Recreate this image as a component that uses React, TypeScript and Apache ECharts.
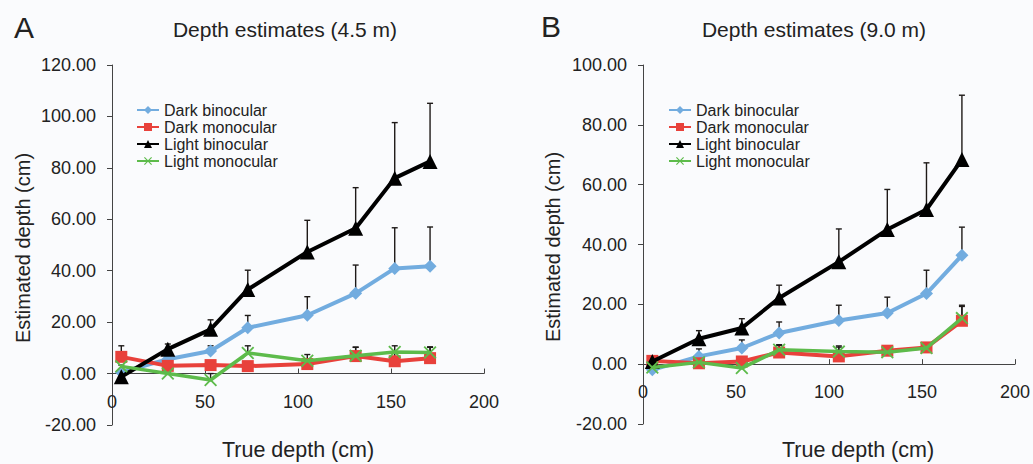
import React, { useEffect, useRef } from "react";
import * as echarts from "echarts";

const trueDepth = [5, 30, 53, 73, 105, 131, 152, 171];
const seriesNames = ["Dark binocular", "Dark monocular", "Light binocular", "Light monocular"];

// Panel A (4.5 m)
const aDarkBin = [0.5, 5.6, 8.8, 17.8, 22.7, 31.2, 40.9, 41.7];
const aDarkBinErr = [0.5, 1.2, 2.0, 4.8, 7.2, 11.0, 15.8, 15.3];
const aDarkMono = [6.5, 3.0, 3.3, 2.9, 3.7, 6.8, 4.8, 6.0];
const aDarkMonoErr = [4.3, 1.2, 1.2, 1.2, 1.5, 3.4, 3.5, 4.2];
const aLightBin = [-1.2, 9.5, 17.2, 32.7, 47.3, 56.5, 76.0, 82.5];
const aLightBinErr = [0.3, 2.0, 3.7, 7.5, 12.3, 15.8, 21.6, 22.6];
const aLightMono = [2.8, 0.0, -2.5, 8.0, 5.0, 6.9, 8.4, 8.2];
const aLightMonoErr = [0.5, 0.5, 2.5, 2.8, 2.4, 3.4, 2.4, 2.2];

// Panel B (9.0 m)
const bDarkBin = [-1.9, 2.6, 5.4, 10.4, 14.6, 17.1, 23.6, 36.4];
const bDarkBinErr = [0.5, 2.5, 2.7, 3.7, 5.1, 5.3, 7.8, 9.4];
const bDarkMono = [1.1, 0.3, 0.9, 3.9, 2.6, 4.5, 5.6, 14.5];
const bDarkMonoErr = [0.5, 0.5, 0.5, 2.6, 3.5, 1.0, 1.0, 5.2];
const bLightBin = [0.9, 8.5, 12.1, 22.1, 34.2, 45.0, 51.7, 68.4];
const bLightBinErr = [0.5, 2.7, 3.1, 4.3, 11.0, 13.4, 15.6, 21.5];
const bLightMono = [-1.1, 0.6, -1.3, 4.8, 4.2, 4.0, 5.4, 15.4];
const bLightMonoErr = [0.5, 0.5, 0.5, 1.5, 1.5, 0.5, 0.5, 3.9];

const yTicksA = { min: -20, max: 120, interval: 20 };
const yTicksB = { min: -20, max: 100, interval: 20 };
const xTicks = { min: 0, max: 200, interval: 50 };

const FONT = "'Liberation Sans', Arial, Helvetica, sans-serif";
const TEXT = "#222";
const COLORS = ["#72acdf", "#e8413b", "#000000", "#5dbb4b"];
const X_SYMBOL =
  "path://M1,0 L5,4 L9,0 L10,1 L6,5 L10,9 L9,10 L5,6 L1,10 L0,9 L4,5 L0,1 Z";
const SYMBOLS = ["diamond", "rect", "triangle", X_SYMBOL];
const SYMBOL_SIZES = [13, 12, 15, 13];
const LINE_WIDTHS = [4, 4, 4, 3.5];

export default function App() {
  const ref = useRef<HTMLDivElement>(null);

  useEffect(() => {
    document.body.style.margin = "0";
    if (!ref.current) return;
    const chart = echarts.init(ref.current, null, { renderer: "svg" });

    const panels = [
      { means: [aDarkBin, aDarkMono, aLightBin, aLightMono], errs: [aDarkBinErr, aDarkMonoErr, aLightBinErr, aLightMonoErr] },
      { means: [bDarkBin, bDarkMono, bLightBin, bLightMono], errs: [bDarkBinErr, bDarkMonoErr, bLightBinErr, bLightMonoErr] },
    ];

    const grids = [
      { left: 112, top: 65, width: 372, height: 360 },
      { left: 643, top: 65, width: 373, height: 359 },
    ];
    const yT = [yTicksA, yTicksB];
    // grids whose bottom edge sits at y = 0 of each panel (carry the x axis)
    const zeroGrids = grids.map((g, i) => ({
      left: g.left,
      top: g.top,
      width: g.width,
      height: (g.height * yT[i].max) / (yT[i].max - yT[i].min),
    }));

    const errRender = (params: any, api: any) => {
      const x = api.value(0);
      const y = api.value(1);
      const e = api.value(2);
      const p = api.coord([x, y]);
      const t = api.coord([x, y + e]);
      const st = { stroke: "#1e1a18", lineWidth: 1.4 };
      return {
        type: "group",
        children: [
          { type: "line", shape: { x1: p[0], y1: p[1], x2: t[0], y2: t[1] }, style: st },
          { type: "line", shape: { x1: t[0] - 3, y1: t[1], x2: t[0] + 3, y2: t[1] }, style: st },
        ],
      };
    };

    const series: any[] = [];
    panels.forEach((pn, gi) => {
      pn.means.forEach((vals, si) => {
        series.push({
          type: "custom",
          name: seriesNames[si] + " err",
          xAxisIndex: gi,
          yAxisIndex: gi,
          renderItem: errRender,
          encode: { x: 0, y: 1 },
          data: trueDepth.map((d, i) => [d, vals[i], pn.errs[si][i]]),
          z: 1,
          silent: true,
        });
      });
      pn.means.forEach((vals, si) => {
        series.push({
          type: "line",
          name: seriesNames[si],
          xAxisIndex: gi,
          yAxisIndex: gi,
          data: trueDepth.map((d, i) => [d, vals[i]]),
          symbol: SYMBOLS[si],
          symbolSize: SYMBOL_SIZES[si],
          showSymbol: true,
          color: COLORS[si],
          lineStyle: { color: COLORS[si], width: LINE_WIDTHS[si] },
          itemStyle: { color: COLORS[si] },
          z: 2 + si,
        });
      });
    });

    const yAxis = (t: any, gi: number) => ({
      type: "value",
      gridIndex: gi,
      min: t.min,
      max: t.max,
      interval: t.interval,
      splitLine: { show: false },
      axisLine: { show: true, lineStyle: { color: "#444", width: 1 } },
      axisTick: { show: true, inside: false, length: 5, lineStyle: { color: "#444" } },
      axisLabel: {
        margin: 16,
        fontSize: 18,
        color: TEXT,
        fontFamily: FONT,
        formatter: (v: number) => v.toFixed(2),
      },
    });
    const hiddenY = (gi: number) => ({
      type: "value",
      gridIndex: gi,
      min: 0,
      max: 1,
      show: false,
    });
    const hiddenX = (gi: number) => ({
      type: "value",
      gridIndex: gi,
      min: xTicks.min,
      max: xTicks.max,
      interval: xTicks.interval,
      show: false,
      splitLine: { show: false },
    });
    const xAxis = (gi: number) => ({
      type: "value",
      gridIndex: gi,
      position: "bottom",
      min: xTicks.min,
      max: xTicks.max,
      interval: xTicks.interval,
      splitLine: { show: false },
      axisLine: { show: true, onZero: false, lineStyle: { color: "#444", width: 1 } },
      axisTick: { show: true, inside: true, length: 5, lineStyle: { color: "#444" } },
      axisLabel: { margin: 19, fontSize: 18, color: TEXT, fontFamily: FONT },
    });

    const legend = (left: number) => ({
      data: seriesNames,
      orient: "vertical",
      left,
      top: 102,
      padding: 0,
      itemWidth: 22,
      itemHeight: 10,
      itemGap: 1,
      textStyle: { fontSize: 16, color: TEXT, fontFamily: FONT, lineHeight: 16 },
      selectedMode: false,
    });

    const text = (t: string, x: number, y: number, size: number, rot = 0) => ({
      type: "text",
      x,
      y,
      rotation: rot,
      style: {
        text: t,
        fontSize: size,
        fontFamily: FONT,
        fill: TEXT,
        align: "center",
        verticalAlign: "middle",
      },
    });

    chart.setOption({
      animation: false,
      backgroundColor: "#fafbfd",
      textStyle: { fontFamily: FONT },
      grid: [...grids, ...zeroGrids],
      xAxis: [hiddenX(0), hiddenX(1), xAxis(2), xAxis(3)],
      yAxis: [yAxis(yTicksA, 0), yAxis(yTicksB, 1), hiddenY(2), hiddenY(3)],
      legend: [legend(136), legend(668)],
      series,
      graphic: [
        text("A", 24, 27, 30),
        text("B", 551, 26, 30),
        text("Depth estimates (4.5 m)", 285, 29, 21),
        text("Depth estimates (9.0 m)", 814, 29, 21),
        text("Estimated depth (cm)", 23, 248, 20, Math.PI / 2),
        text("Estimated depth (cm)", 553, 247, 20, Math.PI / 2),
        text("True depth (cm)", 298, 450, 21.5),
        text("True depth (cm)", 858, 450, 21.5),
      ],
    });

    return () => chart.dispose();
  }, []);

  return <div ref={ref} style={{ width: 1033, height: 464 }} />;
}
